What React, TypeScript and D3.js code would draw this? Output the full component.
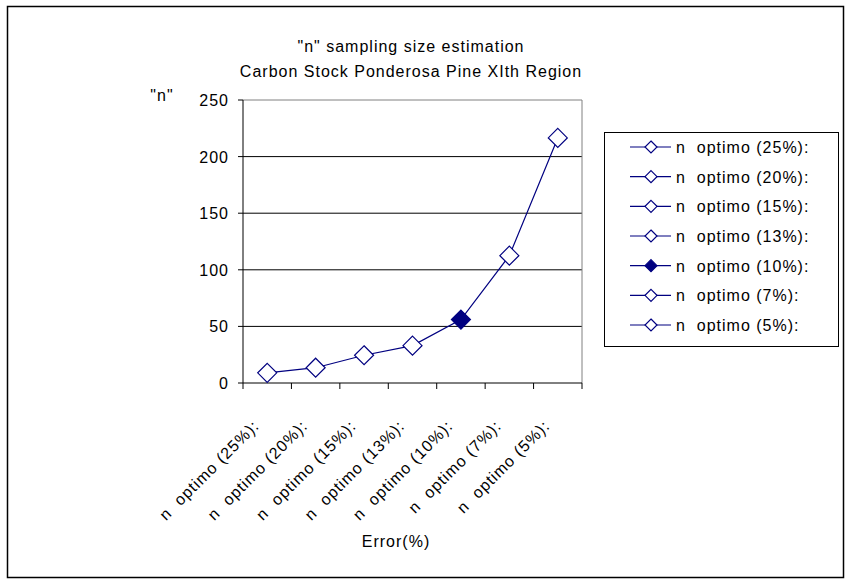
import React from 'react';
import * as d3 from 'd3';

const categories = [
  'n  optimo (25%):',
  'n  optimo (20%):',
  'n  optimo (15%):',
  'n  optimo (13%):',
  'n  optimo (10%):',
  'n  optimo (7%):',
  'n  optimo (5%):',
];
const nValues = [9, 13.5, 24.5, 33, 56, 112.5, 216.5];
const filledIdx = [4];
const yTicks = [0, 50, 100, 150, 200, 250];

const NAVY = '#000080';
const FONT = '"Liberation Sans", Arial, sans-serif';

const diamond = (cx: number, cy: number, r: number) =>
  `M${cx},${cy - r}L${cx + r},${cy}L${cx},${cy + r}L${cx - r},${cy}Z`;

const App = () => {
  const width = 847;
  const height = 579;
  const plot = { left: 243, right: 582, top: 100, bottom: 383 };

  const x = d3.scaleBand<string>().domain(categories).range([plot.left, plot.right]);
  const y = d3.scaleLinear().domain([0, 250]).range([plot.bottom, plot.top]);

  const pts = categories.map((c, i) => ({ cx: (x(c) as number) + x.bandwidth() / 2, cy: y(nValues[i]), i }));
  const line = d3.line<{ cx: number; cy: number }>().x(d => d.cx).y(d => d.cy);

  const bounds = categories.map(c => x(c) as number).concat([plot.right]);

  const legend = { x: 604, y: 132, w: 234, h: 214 };
  const legendY = d3.scalePoint<string>().domain(categories).range([147, 325]);

  const txt = { fontSize: 16, letterSpacing: 1, style: { whiteSpace: 'pre' as const } };

  return (
    <svg width={width} height={height} style={{ position: 'absolute', left: 0, top: 0, fontFamily: FONT }}>
      <rect x={0} y={0} width={width} height={height} fill="#fff" />
      <rect x={7.5} y={6.5} width={836} height={571} fill="none" stroke="#000" strokeWidth={1.5} />

      <text x={411} y={52} textAnchor="middle" {...txt}>"n" sampling size estimation</text>
      <text x={411} y={77} textAnchor="middle" {...txt}>Carbon Stock Ponderosa Pine XIth Region</text>

      {/* gridlines */}
      {yTicks.filter(t => t > 0).map(t => (
        <line key={t} x1={plot.left} x2={plot.right} y1={y(t)} y2={y(t)} stroke={t === 250 ? '#808080' : '#000'} strokeWidth={1} />
      ))}
      <line x1={plot.right} x2={plot.right} y1={plot.top} y2={plot.bottom} stroke="#808080" strokeWidth={1} />

      {/* y axis */}
      <line x1={plot.left} x2={plot.left} y1={plot.top} y2={plot.bottom} stroke="#000" />
      {yTicks.map(t => (
        <g key={t}>
          <line x1={plot.left - 5} x2={plot.left} y1={y(t)} y2={y(t)} stroke="#000" />
          <text x={229} y={y(t) + 6} textAnchor="end" {...txt}>{t}</text>
        </g>
      ))}
      <text x={162} y={101} textAnchor="middle" {...txt}>"n"</text>

      {/* x axis */}
      <line x1={plot.left} x2={plot.right} y1={plot.bottom} y2={plot.bottom} stroke="#000" />
      {bounds.map((b, i) => (
        <line key={i} x1={b} x2={b} y1={plot.bottom} y2={plot.bottom + 6} stroke="#000" />
      ))}
      {pts.map(p => (
        <text
          key={p.i}
          transform={`translate(${p.cx - 7},${427}) rotate(-45)`}
          textAnchor="end"
          {...txt}
        >
          {categories[p.i]}
        </text>
      ))}
      <text x={396} y={547} textAnchor="middle" {...txt}>Error(%)</text>

      {/* series */}
      <path d={line(pts) as string} fill="none" stroke={NAVY} strokeWidth={1.2} />
      {pts.map(p => (
        <path
          key={p.i}
          d={diamond(p.cx, p.cy, 9.5)}
          fill={filledIdx.includes(p.i) ? NAVY : '#fff'}
          stroke={NAVY}
          strokeWidth={1.2}
        />
      ))}

      {/* legend */}
      <rect x={legend.x + 0.5} y={legend.y + 0.5} width={legend.w} height={legend.h} fill="#fff" stroke="#000" />
      {categories.map((c, i) => {
        const ly = legendY(c) as number;
        return (
          <g key={c}>
            <line x1={630} x2={671} y1={ly} y2={ly} stroke={NAVY} strokeWidth={1.2} />
            <path d={diamond(651, ly, 6)} fill={filledIdx.includes(i) ? NAVY : '#fff'} stroke={NAVY} strokeWidth={1.2} />
            <text x={676} y={ly + 6} {...txt}>{c}</text>
          </g>
        );
      })}
    </svg>
  );
};

export default App;
